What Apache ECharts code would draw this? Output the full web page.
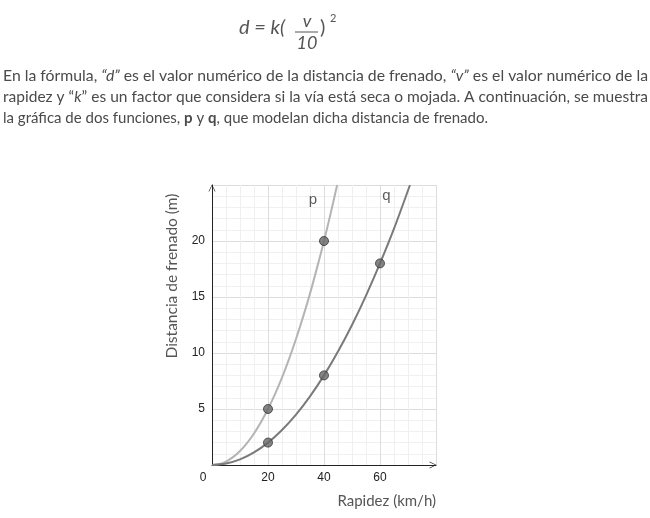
<!DOCTYPE html>
<html><head><meta charset="utf-8">
<script src="https://cdn.jsdelivr.net/npm/echarts@6/dist/echarts.min.js"></script>
<style>html,body{margin:0;padding:0;background:#fff}#c{width:650px;height:518px}</style>
</head><body><div id="c"></div>
<script>
// ---- data ----
const xTicks = [0, 20, 40, 60];
const yTicks = [0, 5, 10, 15, 20];
// curve p (lighter)
const pSpeed = [0, 2.5, 5, 7.5, 10, 12.5, 15, 17.5, 20, 22.5, 25, 27.5, 30, 32.5, 35, 37.5, 40, 42.5, 44.7];
const pDist  = [0, 0.08, 0.31, 0.7, 1.25, 1.95, 2.81, 3.83, 5, 6.33, 7.8, 9.45, 11.25, 13.2, 15.3, 17.6, 20, 22.6, 25];
// curve q (darker)
const qSpeed = [0, 5, 10, 15, 20, 25, 30, 35, 40, 45, 50, 55, 60, 65, 70.7];
const qDist  = [0, 0.13, 0.5, 1.13, 2, 3.13, 4.5, 6.13, 8, 10.13, 12.5, 15.13, 18, 21.1, 25];
// marked points
const pPtsX = [20, 40];
const pPtsY = [5, 20];
const qPtsX = [20, 40, 60];
const qPtsY = [2, 8, 18];
// curve name labels
const curveNames = ['p', 'q'];
const nameX = [36, 62.3];
const nameY = [23.7, 24];

const textFont = 'Lato';
const lines = [
  [['n','En la fórmula, '],['i','“d”'],['n',' es el valor numérico de la distancia de frenado, '],['i','“v”'],['n',' es el valor numérico de la']],
  [['n','rapidez y “'],['i','k'],['n','” es un factor que considera si la vía está seca o mojada. A continuación, se muestra']],
  [['n','la gráfica de dos funciones, '],['b','p'],['n',' y '],['b','q'],['n',', que modelan dicha distancia de frenado.']]
];
const lineTargets = [645, 645, 485];

const cv = document.createElement('canvas').getContext('2d');
function fontOf(k, size){
  return (k==='i'?'italic ':'') + (k==='b'?'bold ':'') + size + 'px ' + textFont;
}
function measure(segs, size){
  let w = 0;
  segs.forEach(s => { cv.font = fontOf(s[0], size); w += cv.measureText(s[1]).width; });
  return w;
}
const zip = (a, b) => a.map((v, i) => [v, b[i]]);

const chart = echarts.init(document.getElementById('c'));
const fs = 15;
const bodyColor = '#4a4a4a';
const textGraphics = lines.map((segs, i) => {
  const w = measure(segs, fs);
  return {
    type: 'text', x: 3, y: [76, 97, 118][i], scaleX: lineTargets[i] / w,
    style: {
      text: segs.map(s => '{' + s[0] + '|' + s[1] + '}').join(''),
      verticalAlign: 'middle', align: 'left',
      rich: {
        n: {fontFamily: textFont, fontSize: fs, fill: bodyColor},
        i: {fontFamily: textFont, fontSize: fs, fill: bodyColor, fontStyle: 'italic'},
        b: {fontFamily: textFont, fontSize: fs, fill: bodyColor, fontWeight: 'bold'}
      }
    }
  };
});

const formulaColor = '#555';
const formula = [
  {type:'text', x: 239, y: 28, style:{text:'d = k(', fontFamily:textFont, fontStyle:'italic', fontSize:20, fill:formulaColor, verticalAlign:'middle'}},
  {type:'text', x: 307, y: 21, style:{text:'v', fontFamily:textFont, fontStyle:'italic', fontSize:18, fill:formulaColor, align:'center', verticalAlign:'middle'}},
  {type:'line', shape:{x1: 295, y1: 32, x2: 318, y2: 32}, style:{stroke: formulaColor, lineWidth: 1}},
  {type:'text', x: 307, y: 43, style:{text:'10', fontFamily:textFont, fontStyle:'italic', fontSize:18, fill:formulaColor, align:'center', verticalAlign:'middle'}},
  {type:'text', x: 320, y: 28, style:{text:')', fontFamily:textFont, fontSize:20, fill:formulaColor, verticalAlign:'middle'}},
  {type:'text', x: 330, y: 18, style:{text:'2', fontFamily:textFont, fontSize:11, fill:formulaColor, verticalAlign:'middle'}}
];

const axisTitles = [
  {type:'text', x: 172, y: 276, rotation: Math.PI/2, style:{text:'Distancia de frenado (m)', fontFamily:textFont, fontSize:15.5, fill:'#555', align:'center', verticalAlign:'middle'}},
  {type:'text', x: 436, y: 501, style:{text:'Rapidez (km/h)', fontFamily:textFont, fontSize:15, fill:'#555', align:'right', verticalAlign:'middle'}}
];

const arrow = 'path://M0,10 L5,0 L10,10 L9,10 L5,1.8 L1,10 Z';

chart.setOption({
  animation: false,
  graphic: textGraphics.concat(formula, axisTitles),
  grid: {left: 212, top: 185, width: 224, height: 280, containLabel: false},
  xAxis: {
    type: 'value', min: 0, max: 80, interval: 20,
    axisLine: {show: true, onZero: false, lineStyle: {color: '#222', width: 1}, symbol: ['none', arrow], symbolSize: [8, 7], symbolOffset: [0, -3]},
    axisTick: {show: false},
    axisLabel: {
      margin: 7, color: '#222', fontFamily: 'Liberation Sans', fontSize: 12,
      formatter: v => v === 0 ? '{z|0}' : (xTicks.indexOf(v) >= 0 ? String(v) : ''),
      rich: {z: {padding: [0, 18, 0, 0], color: '#222', fontFamily: 'Liberation Sans', fontSize: 12}}
    },
    splitLine: {show: true, lineStyle: {color: '#dcdcdc', width: 1}},
    minorTick: {show: false, splitNumber: 4},
    minorSplitLine: {show: true, lineStyle: {color: '#f0f0f0', width: 1}}
  },
  yAxis: {
    type: 'value', min: 0, max: 25, interval: 5,
    axisLine: {show: true, onZero: false, lineStyle: {color: '#222', width: 1}, symbol: ['none', arrow], symbolSize: [8, 7], symbolOffset: [0, -3]},
    axisTick: {show: false},
    axisLabel: {
      margin: 7, color: '#222', fontFamily: 'Liberation Sans', fontSize: 12,
      formatter: v => (v !== 0 && yTicks.indexOf(v) >= 0) ? String(v) : ''
    },
    splitLine: {show: true, lineStyle: {color: '#dcdcdc', width: 1}},
    minorTick: {show: false, splitNumber: 5},
    minorSplitLine: {show: true, lineStyle: {color: '#f0f0f0', width: 1}}
  },
  series: [
    {type: 'line', data: zip(pSpeed, pDist), smooth: 0.3, showSymbol: false, lineStyle: {color: '#b4b4b4', width: 2}, z: 2},
    {type: 'line', data: zip(qSpeed, qDist), smooth: 0.3, showSymbol: false, lineStyle: {color: '#7a7a7a', width: 2}, z: 2},
    {type: 'scatter', data: zip(pPtsX, pPtsY).concat(zip(qPtsX, qPtsY)), symbolSize: 9,
      itemStyle: {color: '#666', borderColor: '#333', borderWidth: 1}, z: 3},
    {type: 'scatter', data: curveNames.map((n, i) => ({value: [nameX[i], nameY[i]], name: n})), symbolSize: 0,
      label: {show: true, position: 'inside', formatter: p => p.name, fontFamily: 'Liberation Sans', fontSize: 15, color: '#333'}, z: 4}
  ]
});
</script>
</body></html>
